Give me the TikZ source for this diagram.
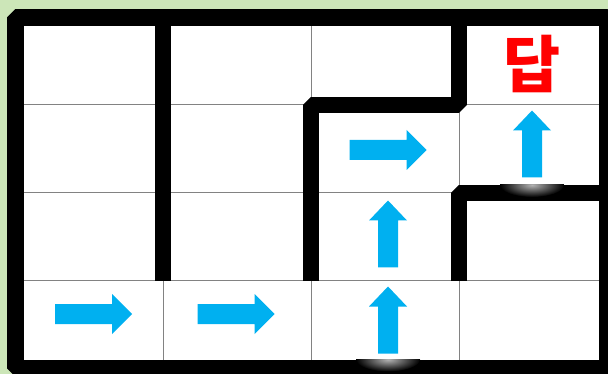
\documentclass[tikz,border=0pt]{standalone}
\usepackage{fontspec}
\newfontfamily\krfont{Noto Sans CJK KR}
\usepackage{tikz}
\definecolor{bggreen}{RGB}{204,230,184}
\definecolor{arrblue}{RGB}{0,176,240}
\definecolor{gridgray}{RGB}{130,130,130}
\tikzset{
  wall/.style={line width=16pt, line join=bevel},
  gridline/.style={gridgray, line width=1pt},
  rarr/.pic={\fill[arrblue] (-38.5,-10) -- (18.5,-10) -- (18.5,-20) -- (38.5,0)
    -- (18.5,20) -- (18.5,10) -- (-38.5,10) -- cycle;},
  uarr/.pic={\fill[arrblue] (-10,33.5) -- (-10,-13.5) -- (-19,-13.5) -- (0,-33.5)
    -- (19,-13.5) -- (10,-13.5) -- (10,33.5) -- cycle;},
  glow/.style={inner color=white!70!black, outer color=black}
}

\begin{document}
\begin{tikzpicture}[x=1pt,y=-1pt]
  \useasboundingbox (0,0) rectangle (608,374);
  \clip (0,0) rectangle (608,374);
  \fill[bggreen] (0,0) rectangle (608,374);
  \fill[white] (15,17.5) rectangle (607,368);

  % grid lines
  \foreach \x in {163,311,459} \draw[gridline] (\x,17) -- (\x,368);
  \foreach \y in {105,193,281} \draw[gridline] (15,\y) -- (607,\y);

  % outer frame and walls
  \draw[wall, line width=17pt] (15,17.5) rectangle (607,368);
  \draw[wall] (163,17) -- (163,281);
  \draw[wall] (311,281) -- (311,105) -- (459,105) -- (459,17);
  \draw[wall] (459,281) -- (459,193) -- (607,193);

  % glow below arrows
  \begin{scope}
    \clip (490,185) rectangle (575,202);
    \shade[glow] (532,185) ellipse (32pt and 12pt);
  \end{scope}
  \begin{scope}
    \clip (345,359.5) rectangle (430,374);
    \shade[glow] (388,359.5) ellipse (32pt and 12pt);
  \end{scope}

  % path
  \pic at (93.5,314) {rarr};
  \pic at (236,314) {rarr};
  \pic at (388,320) {uarr};
  \pic at (388,234) {uarr};
  \pic at (388,150) {rarr};
  \pic at (532,144) {uarr};

  \node[text=red, font=\krfont\bfseries\fontsize{62}{62}\selectfont, inner sep=0pt] (ans) at (532,64) {답};
\end{tikzpicture}
\end{document}
